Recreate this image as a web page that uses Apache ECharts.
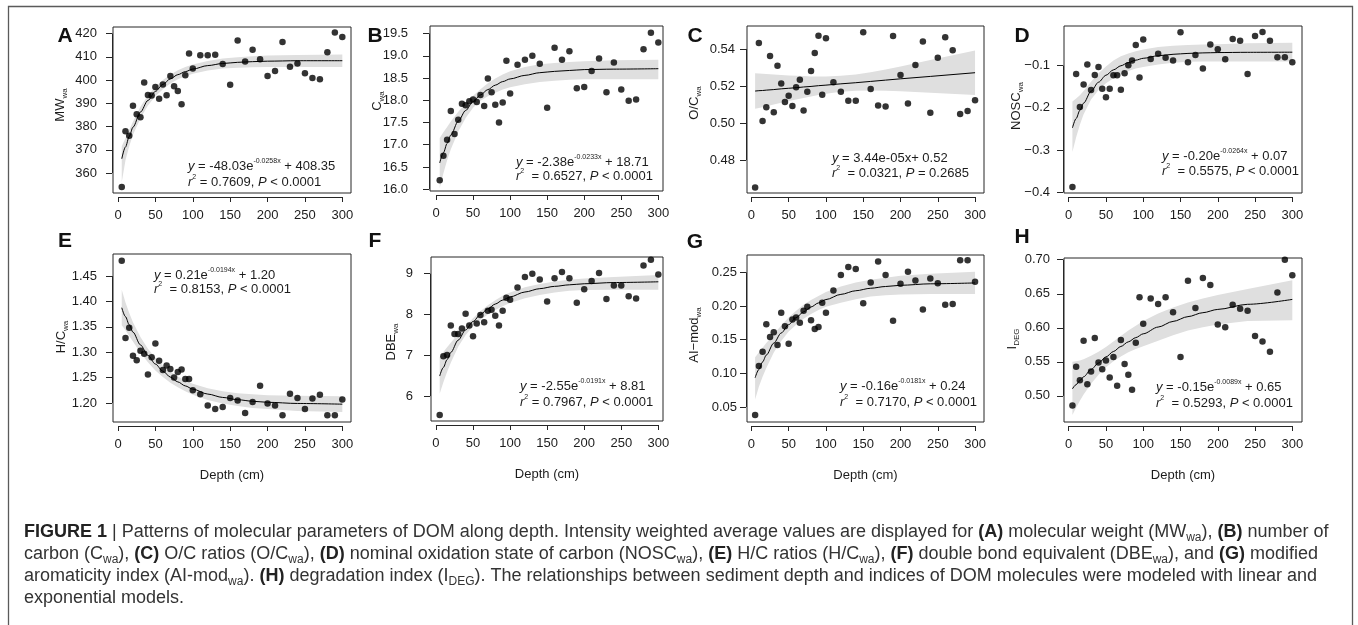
<!DOCTYPE html>
<html>
<head>
<meta charset="utf-8">
<title>Figure 1 - DOM molecular parameters along depth</title>
<script src="https://cdn.jsdelivr.net/npm/echarts@6/dist/echarts.min.js"></script>
<style>
  html, body { margin: 0; padding: 0; background: #fff; }
  #chart { width: 1358px; height: 625px; }
</style>
</head>
<body>
<div id="chart"></div>
<script>
// sampling depths (cm)
const depth = [5, 10, 15, 20, 25, 30, 35, 40, 45, 50, 55, 60, 65, 70, 75, 80, 85, 90, 95, 100,
  110, 120, 130, 140, 150, 160, 170, 180, 190, 200, 210, 220, 230, 240, 250, 260, 270, 280, 290, 300];

// observed intensity weighted averages, one value per depth
const mwWa = [354.0, 378.0, 376.0, 388.9, 385.3, 384.0, 398.9, 393.6, 393.3, 397.0, 391.9, 398.1, 393.4, 401.7, 397.3, 395.3, 389.6, 402.0, 411.4, 405.0,
  410.7, 410.7, 410.9, 406.9, 398.0, 417.0, 408.0, 413.0, 408.9, 401.7, 403.9, 416.4, 405.7, 407.1, 402.9, 400.9, 400.3, 411.9, 420.4, 418.5];
const cWa = [16.20, 16.75, 17.11, 17.76, 17.24, 17.56, 17.92, 17.89, 17.98, 18.02, 17.96, 18.12, 17.87, 18.49, 18.18, 17.90, 17.50, 17.95, 18.89, 18.15,
  18.80, 18.91, 19.00, 18.82, 17.83, 19.18, 18.91, 19.10, 18.27, 18.30, 18.66, 18.94, 18.18, 18.85, 18.24, 17.99, 18.02, 19.15, 19.52, 19.30];
const ocWa = [0.4652, 0.5432, 0.5011, 0.5086, 0.5362, 0.5059, 0.5310, 0.5214, 0.5114, 0.5148, 0.5092, 0.5193, 0.5234, 0.5068, 0.5169, 0.5281, 0.5378, 0.5472, 0.5153, 0.5458,
  0.5220, 0.5169, 0.5121, 0.5121, 0.5490, 0.5184, 0.5095, 0.5090, 0.5470, 0.5259, 0.5106, 0.5314, 0.5441, 0.5056, 0.5353, 0.5463, 0.5393, 0.5049, 0.5065, 0.5124];
const noscWa = [-0.388, -0.120, -0.198, -0.145, -0.097, -0.158, -0.122, -0.103, -0.155, -0.175, -0.155, -0.123, -0.123, -0.157, -0.118, -0.099, -0.088, -0.051, -0.128, -0.038,
  -0.084, -0.072, -0.081, -0.088, -0.021, -0.092, -0.075, -0.107, -0.050, -0.061, -0.085, -0.037, -0.041, -0.120, -0.030, -0.020, -0.041, -0.080, -0.080, -0.092];
const hcWa = [1.480, 1.328, 1.348, 1.293, 1.284, 1.303, 1.297, 1.256, 1.290, 1.317, 1.283, 1.265, 1.274, 1.267, 1.250, 1.261, 1.266, 1.247, 1.247, 1.225,
  1.217, 1.195, 1.188, 1.192, 1.210, 1.205, 1.180, 1.202, 1.234, 1.199, 1.195, 1.176, 1.218, 1.210, 1.188, 1.209, 1.216, 1.176, 1.176, 1.207];
const dbeWa = [5.54, 6.98, 7.01, 7.73, 7.52, 7.52, 7.66, 8.02, 7.73, 7.47, 7.78, 7.99, 7.81, 8.09, 8.12, 7.97, 7.73, 8.09, 8.41, 8.36,
  8.66, 8.92, 9.00, 8.86, 8.32, 8.89, 9.04, 8.89, 8.29, 8.62, 8.82, 9.02, 8.38, 8.71, 8.71, 8.45, 8.39, 9.20, 9.34, 8.98];
const aiModWa = [0.038, 0.111, 0.132, 0.173, 0.154, 0.161, 0.142, 0.190, 0.170, 0.144, 0.180, 0.183, 0.175, 0.193, 0.199, 0.179, 0.166, 0.169, 0.205, 0.190,
  0.223, 0.246, 0.258, 0.255, 0.204, 0.235, 0.266, 0.246, 0.178, 0.233, 0.251, 0.238, 0.195, 0.241, 0.234, 0.202, 0.203, 0.268, 0.268, 0.236];
const iDeg = [0.486, 0.543, 0.523, 0.581, 0.517, 0.536, 0.585, 0.549, 0.539, 0.552, 0.527, 0.557, 0.515, 0.582, 0.547, 0.531, 0.509, 0.578, 0.645, 0.606,
  0.643, 0.635, 0.645, 0.623, 0.557, 0.669, 0.629, 0.673, 0.663, 0.605, 0.601, 0.634, 0.628, 0.625, 0.588, 0.580, 0.565, 0.652, 0.700, 0.677];

// fitted curves and their confidence bands, read at these depths
const fitDepth = [5, 10, 15, 20, 30, 40, 50, 60, 70, 80, 90, 100, 120, 140, 160, 180, 200, 240, 300];

const mwFit = [366.1, 371.2, 375.7, 379.7, 386.2, 391.2, 395.1, 398.1, 400.5, 402.3, 403.6, 404.7, 406.2, 407.1, 407.6, 407.9, 408.1, 408.3, 408.3];
const mwLow = [356.0, 365.5, 371.5, 376.5, 383.5, 389.0, 393.0, 396.0, 398.5, 400.3, 401.6, 402.7, 404.1, 404.9, 405.3, 405.5, 405.6, 405.6, 405.6];
const mwHigh = [371.5, 375.0, 378.5, 382.0, 388.5, 393.3, 397.0, 400.0, 402.3, 404.2, 405.6, 406.7, 408.2, 409.2, 409.8, 410.2, 410.5, 410.8, 411.0];

const cFit = [16.59, 16.82, 17.03, 17.22, 17.53, 17.77, 17.97, 18.12, 18.24, 18.34, 18.42, 18.48, 18.56, 18.62, 18.65, 18.67, 18.69, 18.70, 18.71];
const cLow = [16.02, 16.36, 16.65, 16.90, 17.30, 17.60, 17.83, 17.99, 18.09, 18.17, 18.24, 18.29, 18.36, 18.41, 18.44, 18.46, 18.47, 18.47, 18.47];
const cHigh = [17.15, 17.28, 17.40, 17.52, 17.74, 17.93, 18.10, 18.25, 18.38, 18.49, 18.58, 18.65, 18.75, 18.81, 18.84, 18.86, 18.88, 18.90, 18.91];

const ocFit = [0.5173, 0.5175, 0.5176, 0.5178, 0.5181, 0.5185, 0.5188, 0.5191, 0.5195, 0.5198, 0.5202, 0.5205, 0.5212, 0.5218, 0.5225, 0.5232, 0.5239, 0.5252, 0.5272];
const ocLow = [0.5077, 0.5082, 0.5086, 0.5091, 0.5100, 0.5110, 0.5119, 0.5127, 0.5136, 0.5144, 0.5152, 0.5158, 0.5169, 0.5174, 0.5176, 0.5175, 0.5172, 0.5164, 0.5152];
const ocHigh = [0.5269, 0.5268, 0.5266, 0.5265, 0.5262, 0.5260, 0.5257, 0.5255, 0.5254, 0.5252, 0.5252, 0.5252, 0.5255, 0.5262, 0.5274, 0.5289, 0.5306, 0.5340, 0.5392];

const noscFit = [-0.2476, -0.2254, -0.2060, -0.1889, -0.1608, -0.1393, -0.1228, -0.1100, -0.1003, -0.0928, -0.0870, -0.0826, -0.0766, -0.0731, -0.0710, -0.0698, -0.0690, -0.0684, -0.0681];
const noscLow = [-0.305, -0.270, -0.240, -0.215, -0.180, -0.158, -0.142, -0.130, -0.121, -0.113, -0.107, -0.103, -0.097, -0.093, -0.091, -0.090, -0.090, -0.090, -0.090];
const noscHigh = [-0.185, -0.178, -0.170, -0.160, -0.138, -0.118, -0.102, -0.088, -0.078, -0.071, -0.066, -0.062, -0.056, -0.053, -0.051, -0.050, -0.049, -0.047, -0.046];

const hcFit = [1.3876, 1.3700, 1.3540, 1.3395, 1.3144, 1.2937, 1.2766, 1.2626, 1.2510, 1.2415, 1.2336, 1.2272, 1.2175, 1.2109, 1.2064, 1.2034, 1.2013, 1.1990, 1.1976];
const hcLow = [1.353, 1.343, 1.332, 1.321, 1.299, 1.280, 1.264, 1.251, 1.240, 1.231, 1.223, 1.216, 1.206, 1.199, 1.194, 1.190, 1.188, 1.184, 1.182];
const hcHigh = [1.423, 1.398, 1.377, 1.359, 1.330, 1.307, 1.289, 1.274, 1.262, 1.252, 1.244, 1.238, 1.229, 1.223, 1.219, 1.217, 1.215, 1.214, 1.213];

const dbeFit = [6.492, 6.703, 6.895, 7.070, 7.372, 7.622, 7.829, 7.999, 8.140, 8.257, 8.353, 8.432, 8.552, 8.634, 8.690, 8.728, 8.754, 8.784, 8.802];
const dbeLow = [6.06, 6.34, 6.59, 6.82, 7.21, 7.50, 7.71, 7.87, 8.00, 8.11, 8.20, 8.28, 8.40, 8.48, 8.54, 8.58, 8.60, 8.61, 8.61];
const dbeHigh = [6.95, 7.08, 7.20, 7.31, 7.52, 7.72, 7.91, 8.08, 8.23, 8.35, 8.46, 8.54, 8.67, 8.75, 8.81, 8.85, 8.88, 8.92, 8.97];

const aiFit = [0.0934, 0.1057, 0.1169, 0.1271, 0.1449, 0.1599, 0.1723, 0.1827, 0.1914, 0.1986, 0.2046, 0.2096, 0.2173, 0.2227, 0.2264, 0.2290, 0.2308, 0.2330, 0.2343];
const aiLow = [0.061, 0.080, 0.095, 0.108, 0.131, 0.148, 0.162, 0.172, 0.181, 0.188, 0.194, 0.199, 0.205, 0.210, 0.214, 0.216, 0.217, 0.218, 0.218];
const aiHigh = [0.124, 0.131, 0.138, 0.145, 0.158, 0.171, 0.183, 0.193, 0.202, 0.209, 0.215, 0.221, 0.229, 0.235, 0.239, 0.242, 0.245, 0.248, 0.251];

const degFit = [0.5104, 0.5166, 0.5225, 0.5281, 0.5387, 0.5483, 0.5572, 0.5652, 0.5726, 0.5794, 0.5856, 0.5912, 0.6011, 0.6094, 0.6164, 0.6222, 0.6270, 0.6345, 0.6417];
const degLow = [0.472, 0.483, 0.493, 0.502, 0.518, 0.531, 0.542, 0.551, 0.558, 0.564, 0.569, 0.573, 0.581, 0.589, 0.596, 0.601, 0.605, 0.610, 0.611];
const degHigh = [0.550, 0.551, 0.552, 0.554, 0.559, 0.565, 0.572, 0.580, 0.588, 0.596, 0.603, 0.610, 0.621, 0.630, 0.637, 0.643, 0.648, 0.657, 0.670];

// tick labels
const depthTicks = [0, 50, 100, 150, 200, 250, 300];
const mwTicks = [360, 370, 380, 390, 400, 410, 420];
const cTicks = [16, 16.5, 17, 17.5, 18, 18.5, 19, 19.5];
const ocTicks = [0.48, 0.50, 0.52, 0.54];
const noscTicks = [-0.4, -0.3, -0.2, -0.1];
const hcTicks = [1.20, 1.25, 1.30, 1.35, 1.40, 1.45];
const dbeTicks = [6, 7, 8, 9];
const aiTicks = [0.05, 0.10, 0.15, 0.20, 0.25];
const degTicks = [0.50, 0.55, 0.60, 0.65, 0.70];

const FONT = "'Liberation Sans', Arial, Helvetica, sans-serif";
const INK = '#1c1c1c';
const BAND = '#dfdfdf';

// layout of every panel: box = [left, top, width, height] of the plot frame
const panels = [
  { letter: 'A', name: 'MW', sub: 'wa', obs: mwWa, fit: mwFit, lo: mwLow, hi: mwHigh, ticks: mwTicks, fmt: v => v.toFixed(0),
    box: [113, 27, 238, 166], xr: [-6.7, 311.6], yr: [351.4, 422.8], gap: 16, letterAt: [65, 36], nameAt: [60, 105],
    eq: ['{i|y} = -48.03e{sup|-0.0258x} + 408.35', '{i|r}{sup|2} = 0.7609, {i|P} < 0.0001'], eqAt: [188, 166, 182] },
  { letter: 'B', name: 'C', sub: 'wa', obs: cWa, fit: cFit, lo: cLow, hi: cHigh, ticks: cTicks, fmt: v => v.toFixed(1),
    box: [430, 26, 233, 165], xr: [-8.1, 306.3], yr: [15.96, 19.67], gap: 22, letterAt: [375, 36], nameAt: [377, 101],
    eq: ['{i|y} = -2.38e{sup|-0.0233x} + 18.71', '{i|r}{sup|2}  = 0.6527, {i|P} < 0.0001'], eqAt: [516, 162, 176] },
  { letter: 'C', name: 'O/C', sub: 'wa', obs: ocWa, fit: ocFit, lo: ocLow, hi: ocHigh, ticks: ocTicks, fmt: v => v.toFixed(2), straight: true,
    box: [747, 26, 237, 167], xr: [-5.9, 312], yr: [0.4623, 0.5524], gap: 12, letterAt: [695, 36], nameAt: [694, 103],
    eq: ['{i|y} = 3.44e-05x+ 0.52', '{i|r}{sup|2}  = 0.0321, {i|P} = 0.2685'], eqAt: [832, 158, 173] },
  { letter: 'D', name: 'NOSC', sub: 'wa', obs: noscWa, fit: noscFit, lo: noscLow, hi: noscHigh, ticks: noscTicks, fmt: v => '\u2212' + Math.abs(v).toFixed(1),
    box: [1064, 26, 238, 167], xr: [-6.3, 313], yr: [-0.402, -0.006], gap: 14, letterAt: [1022, 36], nameAt: [1016, 106],
    eq: ['{i|y} = -0.20e{sup|-0.0264x} + 0.07', '{i|r}{sup|2}  = 0.5575, {i|P} < 0.0001'], eqAt: [1162, 156, 171] },
  { letter: 'E', name: 'H/C', sub: 'wa', obs: hcWa, fit: hcFit, lo: hcLow, hi: hcHigh, ticks: hcTicks, fmt: v => v.toFixed(2),
    box: [113, 254, 238, 168], xr: [-6.7, 311.6], yr: [1.1625, 1.4934], gap: 16, letterAt: [65, 241], nameAt: [61, 337],
    eq: ['{i|y} = 0.21e{sup|-0.0194x} + 1.20', '{i|r}{sup|2}  = 0.8153, {i|P} < 0.0001'], eqAt: [154, 275, 289] },
  { letter: 'F', name: 'DBE', sub: 'wa', obs: dbeWa, fit: dbeFit, lo: dbeLow, hi: dbeHigh, ticks: dbeTicks, fmt: v => v.toFixed(0),
    box: [431, 257, 232, 164], xr: [-6.7, 306.3], yr: [5.39, 9.41], gap: 18, letterAt: [375, 241], nameAt: [391, 342],
    eq: ['{i|y} = -2.55e{sup|-0.0191x} + 8.81', '{i|r}{sup|2} = 0.7967, {i|P} < 0.0001'], eqAt: [520, 386, 402] },
  { letter: 'G', name: 'AI\u2212mod', sub: 'wa', obs: aiModWa, fit: aiFit, lo: aiLow, hi: aiHigh, ticks: aiTicks, fmt: v => v.toFixed(2),
    box: [747, 255, 237, 167], xr: [-5.9, 312], yr: [0.0277, 0.2758], gap: 10, letterAt: [695, 242], nameAt: [694, 335],
    eq: ['{i|y} = -0.16e{sup|-0.0181x} + 0.24', '{i|r}{sup|2}  = 0.7170, {i|P} < 0.0001'], eqAt: [840, 386, 402] },
  { letter: 'H', name: 'I', sub: 'DEG', obs: iDeg, fit: degFit, lo: degLow, hi: degHigh, ticks: degTicks, fmt: v => v.toFixed(2),
    box: [1064, 258, 238, 164], xr: [-6.3, 313], yr: [0.4617, 0.7025], gap: 14, letterAt: [1022, 237], nameAt: [1012, 339],
    eq: ['{i|y} = -0.15e{sup|-0.0089x} + 0.65', '{i|r}{sup|2}  = 0.5293, {i|P} < 0.0001'], eqAt: [1156, 387, 403] }
];

const X_OFFSET = 4;   // x axis sits a little below the frame
const Y_OFFSET = 1;

function pairs(xs, ys) {
  return xs.map((x, k) => [x, ys[k]]);
}

const chart = echarts.init(document.getElementById('chart'), null, { renderer: 'canvas' });

const grid = [];
const xAxis = [];
const yAxis = [];
const series = [];

panels.forEach((p, i) => {
  const bottomRow = i >= 4;
  grid.push({
    left: p.box[0], top: p.box[1], width: p.box[2], height: p.box[3],
    show: true, borderColor: '#262626', borderWidth: 1, backgroundColor: 'transparent',
    containLabel: false, outerBoundsMode: 'none'
  });
  xAxis.push({
    type: 'value', gridIndex: i, min: p.xr[0], max: p.xr[1], offset: X_OFFSET,
    axisLine: { show: false, onZero: false },
    axisTick: { show: true, length: 5, customValues: depthTicks, lineStyle: { color: '#262626', width: 1 } },
    axisLabel: { customValues: depthTicks, margin: 12, fontSize: 13, fontFamily: FONT, color: INK },
    splitLine: { show: false },
    name: bottomRow ? 'Depth (cm)' : '',
    nameLocation: 'middle', nameGap: 43,
    nameTextStyle: { fontSize: 13, fontFamily: FONT, color: INK }
  });
  yAxis.push({
    type: 'value', gridIndex: i, min: p.yr[0], max: p.yr[1], offset: Y_OFFSET,
    axisLine: { show: false, onZero: false },
    axisTick: { show: true, length: 6, customValues: p.ticks, lineStyle: { color: '#262626', width: 1 } },
    axisLabel: { customValues: p.ticks, formatter: p.fmt, margin: p.gap - Y_OFFSET, fontSize: 13, fontFamily: FONT, color: INK },
    splitLine: { show: false }
  });

  // confidence band: one polygon through the upper edge and back along the lower edge
  series.push({
    type: 'custom', xAxisIndex: i, yAxisIndex: i, silent: true, z: 1,
    data: pairs(fitDepth, p.fit),
    renderItem: function (params, api) {
      if (params.dataIndex !== 0) return null;
      const upper = fitDepth.map((x, k) => api.coord([x, p.hi[k]]));
      const lower = fitDepth.map((x, k) => api.coord([x, p.lo[k]])).reverse();
      return {
        type: 'polygon',
        shape: { points: upper.concat(lower) },
        style: { fill: BAND, stroke: 'none' }
      };
    }
  });
  // fitted model
  series.push({
    type: 'line', xAxisIndex: i, yAxisIndex: i, silent: true,
    data: pairs(fitDepth, p.fit), symbol: 'none', smooth: p.straight ? false : 0.3, smoothMonotone: 'x',
    lineStyle: { color: '#000', width: 1 }, z: 2
  });
  // observations
  series.push({
    type: 'scatter', xAxisIndex: i, yAxisIndex: i,
    data: pairs(depth, p.obs), symbol: 'circle', symbolSize: 6.5,
    itemStyle: { color: '#000' }, z: 3
  });
});

chart.setOption({
  animation: false,
  backgroundColor: '#fff',
  grid: grid,
  xAxis: xAxis,
  yAxis: yAxis,
  series: series
});

// text styles
function txt(size, extra) {
  return Object.assign({ fontSize: size, fontFamily: FONT, fill: INK, fontWeight: 'normal', fontStyle: 'normal' }, extra || {});
}
const eqRich = {
  i: txt(13, { fontStyle: 'italic', lineHeight: 16 }),
  sup: txt(7, { lineHeight: 8, verticalAlign: 'top' })
};

const graphic = [];

// outer figure frame (open at the bottom)
graphic.push({
  type: 'rect', silent: true,
  shape: { x: 8.5, y: 6.5, width: 1344, height: 660 },
  style: { fill: 'none', stroke: '#5a5a5a', lineWidth: 1.3 }
});

panels.forEach((p, i) => {
  const left = p.box[0], bottom = p.box[1] + p.box[3];
  // axis lines run only from the first to the last tick, like base R
  const x0 = chart.convertToPixel({ xAxisIndex: i }, depthTicks[0]);
  const x1 = chart.convertToPixel({ xAxisIndex: i }, depthTicks[depthTicks.length - 1]);
  const y0 = chart.convertToPixel({ yAxisIndex: i }, p.ticks[0]);
  const y1 = chart.convertToPixel({ yAxisIndex: i }, p.ticks[p.ticks.length - 1]);
  graphic.push({
    type: 'line', silent: true,
    shape: { x1: x0, y1: bottom + X_OFFSET + 0.5, x2: x1, y2: bottom + X_OFFSET + 0.5 },
    style: { stroke: '#262626', lineWidth: 1 }
  });
  graphic.push({
    type: 'line', silent: true,
    shape: { x1: left - Y_OFFSET + 0.5, y1: y0, x2: left - Y_OFFSET + 0.5, y2: y1 },
    style: { stroke: '#262626', lineWidth: 1 }
  });

  // panel letter
  graphic.push({
    type: 'text', silent: true, x: p.letterAt[0], y: p.letterAt[1],
    style: Object.assign(txt(21, { fontWeight: 'bold', fill: '#111' }), {
      text: p.letter, align: 'center', verticalAlign: 'middle', textAlign: 'center', textVerticalAlign: 'middle'
    })
  });

  // y axis title with subscript, rotated
  graphic.push({
    type: 'text', silent: true, x: p.nameAt[0], y: p.nameAt[1], rotation: Math.PI / 2,
    style: Object.assign(txt(13, { lineHeight: 18 }), {
      text: p.name + '{s|' + p.sub + '}',
      rich: { s: txt(8, { lineHeight: 9, verticalAlign: 'bottom' }) },
      align: 'center', verticalAlign: 'middle', textAlign: 'center', textVerticalAlign: 'middle'
    })
  });

  // model equation, two lines
  p.eq.forEach((line, k) => {
    graphic.push({
      type: 'text', silent: true, x: p.eqAt[0], y: p.eqAt[1 + k],
      style: Object.assign(txt(13, { lineHeight: 16 }), {
        text: line, rich: eqRich,
        align: 'left', verticalAlign: 'middle', textAlign: 'left', textVerticalAlign: 'middle'
      })
    });
  });
});

// figure caption
const capLines = [
  '{b|FIGURE 1} | Patterns of molecular parameters of DOM along depth. Intensity weighted average values are displayed for {b|(A)} molecular weight (MW{s|wa}), {b|(B)} number of',
  'carbon (C{s|wa}), {b|(C)} O/C ratios (O/C{s|wa}), {b|(D)} nominal oxidation state of carbon (NOSC{s|wa}), {b|(E)} H/C ratios (H/C{s|wa}), {b|(F)} double bond equivalent (DBE{s|wa}), and {b|(G)} modified',
  'aromaticity index (AI-mod{s|wa}). {b|(H)} degradation index (I{s|DEG}). The relationships between sediment depth and indices of DOM molecules were modeled with linear and',
  'exponential models.'
];
const capSize = 18;
const capStep = 22;
const capRich = {
  b: txt(capSize, { fontWeight: 'bold', lineHeight: capStep, fill: '#222' }),
  s: txt(12, { lineHeight: 13, verticalAlign: 'bottom', fill: '#333' })
};
capLines.forEach((line, k) => {
  graphic.push({
    type: 'text', silent: true, x: 24, y: 532.5 + k * capStep,
    style: Object.assign(txt(capSize, { lineHeight: capStep, fill: '#333' }), {
      text: line, rich: capRich,
      align: 'left', verticalAlign: 'middle', textAlign: 'left', textVerticalAlign: 'middle'
    })
  });
});

chart.setOption({ graphic: graphic });
</script>
</body>
</html>
